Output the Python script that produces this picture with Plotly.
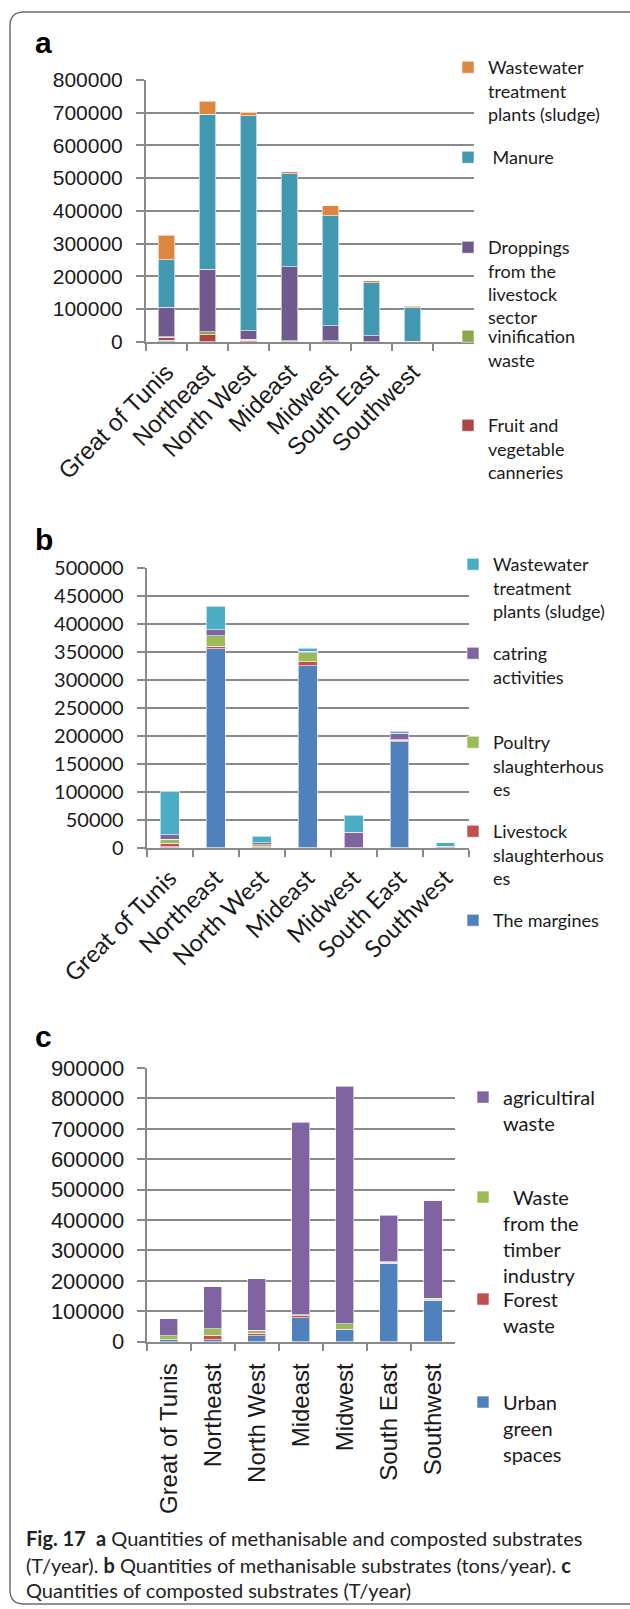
import plotly.graph_objects as go

W, H = 630, 1609


def fx(x):
    return x / W


def fy(y):
    return 1 - y / H


# ---------------- data ----------------
regions = ["Great of Tunis", "Northeast", "North West", "Mideast", "Midwest", "South East", "Southwest"]
regions_a = regions + ["\u00a0"]  # panel a has one empty trailing slot

# panel a : methanisable and composted substrates (T/year)
a_other = [5000, 0, 0, 0, 0, 0, 0]
a_fruit = [8000, 21000, 5000, 0, 3000, 0, 0]
a_vinif = [2000, 10000, 2000, 3000, 0, 0, 2000]
a_dropp = [90000, 190000, 26000, 226000, 46000, 18000, 0]
a_manure = [145000, 474000, 658000, 284000, 336000, 162000, 102000]
a_wwtp = [76000, 40000, 11000, 6000, 30000, 6000, 5000]

# panel b : methanisable substrates (tons/year)
b_margines = [1000, 355000, 0, 325000, 0, 189000, 0]
b_livestock = [7000, 5000, 1500, 7000, 0, 3000, 0]
b_poultry = [7000, 18000, 3000, 16000, 0, 1000, 0]
b_catering = [8000, 11000, 4000, 3000, 27000, 11000, 2500]
b_wwtp = [77000, 42000, 12000, 5000, 31000, 4000, 6000]

# panel c : composted substrates (T/year)
c_urban = [6000, 7000, 19000, 79000, 40000, 258000, 137000]
c_forest = [1000, 14000, 8000, 7000, 1000, 4000, 1000]
c_timber = [12000, 22000, 11000, 3000, 18000, 1000, 5000]
c_agri = [56000, 138000, 169000, 633000, 781000, 153000, 320000]

a_labels = {
    "wwtp": "Wastewater<br>treatment<br>plants (sludge)",
    "manure": "\u00a0Manure",
    "dropp": "Droppings<br>from the<br>livestock<br>sector",
    "vinif": "vinification<br>waste",
    "fruit": "Fruit and<br>vegetable<br>canneries",
}
b_labels = {
    "wwtp": "Wastewater<br>treatment<br>plants (sludge)",
    "catering": "catring<br>activities",
    "poultry": "Poultry<br>slaughterhous<br>es",
    "livestock": "Livestock<br>slaughterhous<br>es",
    "margines": "The margines",
}
c_labels = {
    "agri": "agricultiral<br>waste",
    "timber": "\u00a0\u00a0Waste<br>from the<br>timber<br>industry",
    "forest": "Forest<br>waste",
    "urban": "Urban<br>green<br>spaces",
}

# ---------------- style ----------------
GRID = "#8a8a8a"
TXT = "#1a1a1a"
ARIAL = "Liberation Sans, Arial, sans-serif"
CAL = "Lato, Open Sans, sans-serif"
EDGE = dict(color="rgba(255,255,255,0.6)", width=1)

fig = go.Figure()
legends = {}
leg_count = [0]


def add_bar(x, y, name, color, xa, ya, leg_y=None, leg_x=None, leg_font=18):
    if leg_y is None:
        fig.add_trace(go.Bar(x=x, y=y, name=name, marker=dict(color=color, line=EDGE),
                             xaxis=xa, yaxis=ya, showlegend=False))
        return
    leg_count[0] += 1
    key = "legend" if leg_count[0] == 1 else f"legend{leg_count[0]}"
    legends[key] = dict(
        x=fx(leg_x - 40), y=fy(leg_y - leg_font * 0.72 - 5), xanchor="left", yanchor="top",
        valign="top", bgcolor="rgba(0,0,0,0)", borderwidth=0,
        font=dict(family=CAL, size=leg_font, color=TXT), itemclick=False, itemdoubleclick=False,
    )
    fig.add_trace(go.Bar(x=x, y=y, name=name, marker=dict(color=color, line=EDGE),
                         xaxis=xa, yaxis=ya, legend=key, showlegend=True))


# panel a (bottom -> top)
LA = 488
add_bar(regions, a_other, "\u00a0", "#4572A7", "x", "y")
add_bar(regions, a_fruit, a_labels["fruit"], "#AA4643", "x", "y", 425, LA)
add_bar(regions, a_vinif, a_labels["vinif"], "#8DA54C", "x", "y", 336, LA)
add_bar(regions, a_dropp, a_labels["dropp"], "#70598C", "x", "y", 247, LA)
add_bar(regions, a_manure, a_labels["manure"], "#4298B0", "x", "y", 157, LA)
add_bar(regions, a_wwtp, a_labels["wwtp"], "#DD8640", "x", "y", 67, LA)

# panel b
LB = 493
add_bar(regions, b_margines, b_labels["margines"], "#4F81BD", "x2", "y2", 920, LB)
add_bar(regions, b_livestock, b_labels["livestock"], "#C0504D", "x2", "y2", 831, LB)
add_bar(regions, b_poultry, b_labels["poultry"], "#9BBB59", "x2", "y2", 742, LB)
add_bar(regions, b_catering, b_labels["catering"], "#8064A2", "x2", "y2", 653, LB)
add_bar(regions, b_wwtp, b_labels["wwtp"], "#4BACC6", "x2", "y2", 564, LB)

# panel c
LC = 503
add_bar(regions, c_urban, c_labels["urban"], "#4F81BD", "x3", "y3", 1402, LC, 20)
add_bar(regions, c_forest, c_labels["forest"], "#C0504D", "x3", "y3", 1299, LC, 20)
add_bar(regions, c_timber, c_labels["timber"], "#9BBB59", "x3", "y3", 1197, LC, 20)
add_bar(regions, c_agri, c_labels["agri"], "#8064A2", "x3", "y3", 1097, LC, 20)


def xaxis(dom, cats, rng, angle, font, standoff):
    return dict(domain=[fx(dom[0]), fx(dom[1])], type="category", categoryorder="array",
                categoryarray=cats, range=rng, tickangle=angle, tickson="boundaries",
                ticks="outside", ticklen=7, tickwidth=1.5, tickcolor=GRID,
                showline=True, linecolor=GRID, linewidth=2, showgrid=False,
                tickfont=font, ticklabelstandoff=standoff, fixedrange=True, automargin=False)


def yaxis(dom, top, dtick, font, standoff):
    return dict(domain=[fy(dom[1]), fy(dom[0])], range=[0, top], dtick=dtick, tickformat="d",
                showgrid=True, gridcolor=GRID, gridwidth=1.5, ticks="outside", ticklen=8,
                tickwidth=1.5, tickcolor=GRID, showline=True, linecolor=GRID, linewidth=2,
                zeroline=False, tickfont=font, ticklabelstandoff=standoff, fixedrange=True,
                automargin=False)


fig.update_layout(
    width=W, height=H, margin=dict(l=0, r=0, t=0, b=0, autoexpand=False),
    paper_bgcolor="white", plot_bgcolor="white",
    barmode="stack", bargap=0.59,
    xaxis=dict(xaxis((146, 474), regions_a, [-0.5, 7.5], -45,
                     dict(family=ARIAL, size=24, color=TXT), 5), anchor="y"),
    yaxis=dict(yaxis((80, 341.7), 800000, 100000, dict(family=ARIAL, size=21, color=TXT), 9), anchor="x"),
    xaxis2=dict(xaxis((146.7, 468.5), regions, [-0.5, 6.5], -45,
                      dict(family=CAL, size=24, color=TXT), 5), anchor="y2"),
    yaxis2=dict(yaxis((567.7, 847.5), 500000, 50000, dict(family=CAL, size=20, color=TXT), 9), anchor="x2"),
    xaxis3=dict(xaxis((146.7, 455), regions, [-0.5, 6.5], -90,
                      dict(family=ARIAL, size=24, color=TXT), 10), anchor="y3"),
    yaxis3=dict(yaxis((1068, 1341.7), 900000, 100000, dict(family=ARIAL, size=22, color=TXT), 8), anchor="x3"),
    showlegend=True,
    **legends,
)

# panel letters
for letter, y in (("a", 42), ("b", 539), ("c", 1036)):
    fig.add_annotation(text=f"<b>{letter}</b>", x=fx(33), y=fy(y), xref="paper", yref="paper",
                       xanchor="left", yanchor="middle", showarrow=False,
                       font=dict(family=ARIAL, size=30, color="black"))

# caption
cap_lines = [
    "<b>Fig. 17</b>\u00a0 <b>a</b> Quantities of methanisable and composted substrates",
    "(T/year). <b>b</b> Quantities of methanisable substrates (tons/year). <b>c</b>",
    "Quantities of composted substrates (T/year)",
]
for line, y in zip(cap_lines, (1538, 1565, 1590)):
    fig.add_annotation(text=line, x=fx(24), y=fy(y), xref="paper", yref="paper",
                       xanchor="left", yanchor="middle", showarrow=False, align="left",
                       font=dict(family=CAL, size=20, color="#222222"))

# rounded frame (its right side lies beyond the picture)
x0, y0, x1, y1, r = 10, 12, 660, 1604, 14


def P(x, y):
    return f"{fx(x):.5f},{fy(y):.5f}"


path = (f"M {P(x0 + r, y0)} L {P(x1 - r, y0)} Q {P(x1, y0)} {P(x1, y0 + r)} "
        f"L {P(x1, y1 - r)} Q {P(x1, y1)} {P(x1 - r, y1)} L {P(x0 + r, y1)} "
        f"Q {P(x0, y1)} {P(x0, y1 - r)} L {P(x0, y0 + r)} Q {P(x0, y0)} {P(x0 + r, y0)} Z")
fig.add_shape(type="path", path=path, xref="paper", yref="paper",
              line=dict(color="#6e6e6e", width=1.5), fillcolor="rgba(0,0,0,0)", layer="below")

fig.write_html("out.html", config={"displayModeBar": False},
               post_script="document.body.style.margin='0';")
